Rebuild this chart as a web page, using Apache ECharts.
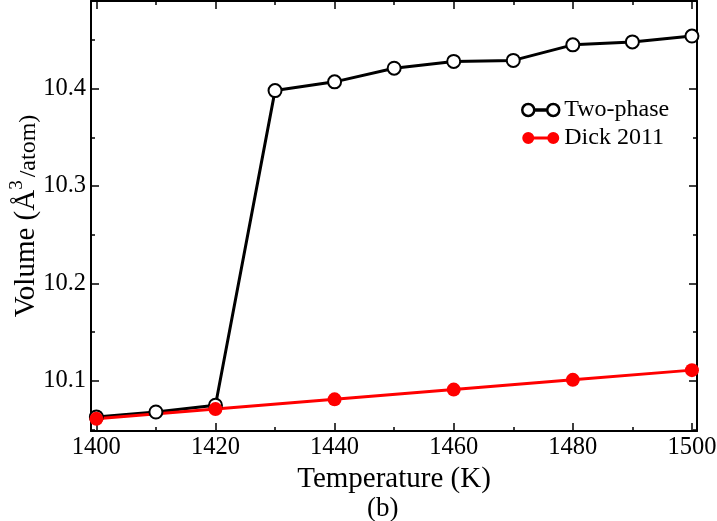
<!DOCTYPE html>
<html>
<head>
<meta charset="utf-8">
<script src="https://cdn.jsdelivr.net/npm/echarts@6/dist/echarts.min.js"></script>
<style>
  html, body { margin: 0; padding: 0; background: #fff; }
  #main { width: 717px; height: 521px; }
</style>
</head>
<body>
<div id="main"></div>
<script>
// temperatures (K)
var twoPhaseT = [1400, 1410, 1420, 1430, 1440, 1450, 1460, 1470, 1480, 1490, 1500];
var twoPhaseV = [10.063, 10.068, 10.075, 10.398, 10.407, 10.421, 10.428, 10.429, 10.445, 10.448, 10.454];
var dickT = [1400, 1420, 1440, 1460, 1480, 1500];
var dickV = [10.061, 10.071, 10.081, 10.091, 10.101, 10.111];

// tick labels
var xMajor = [1400, 1420, 1440, 1460, 1480, 1500];
var xMinor = [1410, 1430, 1450, 1470, 1490];
var yMajor = [10.1, 10.2, 10.3, 10.4];
var yMinor = [10.05, 10.15, 10.25, 10.35, 10.45];

var xMin = 1399.1, xMax = 1500.85;
var yMin = 10.0485, yMax = 10.49;
var serif = 'Liberation Serif';

function zip(a, b) {
    return a.map(function (v, i) { return [v, b[i]]; });
}

// one axis = ticks only (line / labels optional)
function tickAxis(pos, min, max, vals, len, withLine, withLabel, extra) {
    var ax = {
        type: 'value',
        position: pos,
        min: min,
        max: max,
        axisLine: {show: withLine, onZero: false, lineStyle: {color: '#000', width: 2}},
        axisTick: {show: true, inside: true, length: len, customValues: vals, lineStyle: {color: '#000', width: 1.5}},
        axisLabel: {
            show: withLabel, customValues: vals, color: '#000', fontFamily: serif, fontSize: 24.5,
            margin: pos === 'left' ? 5 : 4,
            formatter: function (v) { return pos === 'left' ? v.toFixed(1) : String(v); }
        },
        splitLine: {show: false}
    };
    for (var k in extra) ax[k] = extra[k];
    return ax;
}

var chart = echarts.init(document.getElementById('main'));

var option = {
    animation: false,
    backgroundColor: '#fff',
    grid: {left: 91, right: 20, top: 1, bottom: 90, containLabel: false, outerBoundsMode: 'none'},
    title: {
        text: '(b)',
        left: 367,
        top: 495,
        padding: 0,
        textStyle: {fontFamily: serif, fontSize: 27, fontWeight: 'normal', color: '#000'}
    },
    legend: {
        orient: 'vertical',
        left: 521,
        top: 98,
        padding: 0,
        itemWidth: 37,
        itemHeight: 12,
        itemGap: 4,
        textStyle: {fontFamily: serif, fontSize: 24, color: '#000'},
        data: [
            {
                name: 'Two-phase',
                icon: 'path://M0,6A6,6,0,1,1,12,6A6,6,0,1,1,0,6Z M25,6A6,6,0,1,1,37,6A6,6,0,1,1,25,6Z M12,5.5L25,5.5L25,6.5L12,6.5Z',
                itemStyle: {color: '#fff', borderColor: '#000', borderWidth: 2.5}
            },
            {
                name: 'Dick 2011',
                icon: 'path://M0,6A6,6,0,1,1,12,6A6,6,0,1,1,0,6Z M25,6A6,6,0,1,1,37,6A6,6,0,1,1,25,6Z M11,4.6L26,4.6L26,7.4L11,7.4Z',
                itemStyle: {color: '#ff0000', borderWidth: 0}
            }
        ]
    },
    xAxis: [
        tickAxis('bottom', xMin, xMax, xMajor, 8, true, true, {
            name: 'Temperature (K)',
            nameLocation: 'middle',
            nameGap: 23,
            nameTextStyle: {fontFamily: serif, fontSize: 29, color: '#000'}
        }),
        tickAxis('bottom', xMin, xMax, xMinor, 4, false, false, {}),
        tickAxis('top', xMin, xMax, xMajor, 8, true, false, {}),
        tickAxis('top', xMin, xMax, xMinor, 4, false, false, {})
    ],
    yAxis: [
        tickAxis('left', yMin, yMax, yMajor, 8, true, true, {
            name: '{a|Volume (Å}{s|3}{b|/atom)}',
            nameLocation: 'middle',
            nameRotate: 90,
            nameGap: 47,
            nameMoveOverlap: false,
            nameTextStyle: {
                color: '#000',
                rich: {
                    a: {fontFamily: serif, fontSize: 29, color: '#000'},
                    s: {fontFamily: serif, fontSize: 19, color: '#000', padding: [0, 3, 17, 0]},
                    b: {fontFamily: serif, fontSize: 24, color: '#000', padding: [6, 0, 0, 0]}
                }
            }
        }),
        tickAxis('left', yMin, yMax, yMinor, 4, false, false, {}),
        tickAxis('right', yMin, yMax, yMajor, 8, true, false, {}),
        tickAxis('right', yMin, yMax, yMinor, 4, false, false, {})
    ],
    series: [
        {
            name: 'Two-phase',
            type: 'line',
            xAxisIndex: 0,
            yAxisIndex: 0,
            data: zip(twoPhaseT, twoPhaseV),
            symbol: 'emptyCircle',
            symbolSize: 13,
            lineStyle: {color: '#000', width: 3},
            itemStyle: {color: '#000', borderWidth: 2.5}
        },
        {
            name: 'Dick 2011',
            type: 'line',
            xAxisIndex: 0,
            yAxisIndex: 0,
            data: zip(dickT, dickV),
            symbol: 'circle',
            symbolSize: 14,
            lineStyle: {color: '#ff0000', width: 3},
            itemStyle: {color: '#ff0000'}
        }
    ]
};

chart.setOption(option);
</script>
</body>
</html>
